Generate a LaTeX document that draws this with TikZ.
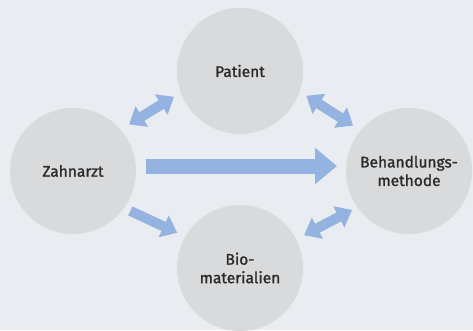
\documentclass[tikz,border=0pt]{standalone}
\usepackage{fontspec}
\setmainfont{Fira Sans}
\newfontfamily\labelfont{Fira Sans}[FakeBold=1.2]
\usetikzlibrary{arrows.meta}
\definecolor{bg}{HTML}{E9ECF0}
\definecolor{disc}{HTML}{D9DADC}
\definecolor{flow}{HTML}{94B3E0}
\definecolor{ink}{HTML}{2A2A2A}
\begin{document}
\begin{tikzpicture}[x=1pt,y=-1pt,
  actor/.style={circle, fill=disc, minimum size=126pt, inner sep=0pt,
    outer sep=0pt, align=center, text=ink,
    font=\labelfont\fontsize{15.5}{18.5}\selectfont},
  smalltip/.tip={Triangle[length=15pt,width=23pt]},
  bigtip/.tip={Triangle[length=22pt,width=35pt]},
  link/.style={draw=flow, line width=10pt, smalltip-smalltip},
  feed/.style={draw=flow, line width=10pt, -smalltip},
  mainflow/.style={draw=flow, line width=15pt, -bigtip}
]
% background and frame
\fill[bg] (0,0) rectangle (473,330);
\useasboundingbox (0,0) rectangle (473,330);

% the four parties
\node[actor] (p) at (240,71)  {Patient};
\node[actor] (z) at (73,171)  {Zahnarzt};
\node[actor] (b) at (409,171) {Behandlungs-\\methode};
\node[actor] (m) at (240,268) {Bio-\\materialien};

% connections
\draw[link, shorten <=10pt, shorten >=8pt] (z.41) -- (p.200);
\draw[link, shorten <=8pt, shorten >=9pt] (p.341) -- (b.140);
\draw[feed, shorten <=7pt, shorten >=9pt] (z.-36) -- (m.150);
\draw[link, shorten <=9pt, shorten >=6pt] (m.27) -- (b.215);
\draw[mainflow, shorten <=10pt, shorten >=9pt]
  ([yshift=5pt]z.east) -- ([yshift=5pt]b.west);
\end{tikzpicture}
\end{document}
